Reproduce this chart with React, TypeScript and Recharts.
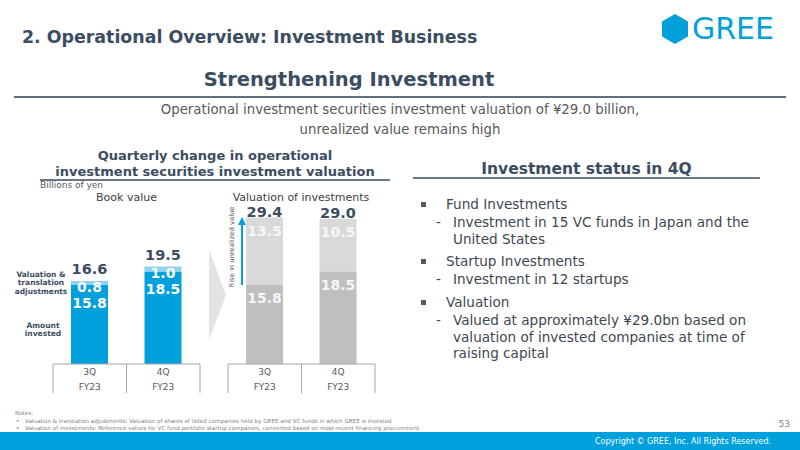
import { BarChart, Bar, XAxis, YAxis, LabelList } from "recharts";

const FONT = "'DejaVu Sans', Verdana, sans-serif";
const SLATE = "#3b4d61";
const BLUE = "#00a0dc";

// Chart data (billions of yen)
const quarters = ["3Q", "4Q"];
const fiscalYear = "FY23";
const amountInvested = [15.8, 18.5];
const valuationAdjustments = [0.8, 1.0];
const bookValueTotals = [16.6, 19.5];
const valuationBase = [15.8, 18.5];
const unrealizedRise = [13.5, 10.5];
const valuationTotals = [29.4, 29.0];

const bookData = quarters.map((q, i) => ({
  quarter: q,
  amount: amountInvested[i],
  adjustment: valuationAdjustments[i],
  total: bookValueTotals[i],
}));

const valuationData = quarters.map((q, i) => ({
  quarter: q,
  base: valuationBase[i],
  rise: unrealizedRise[i],
  total: valuationTotals[i],
}));

const fundLines = ["Investment in 15 VC funds in Japan and the", "United States"];
const startupLines = ["Investment in 12 startups"];
const valuationLines = [
  "Valued at approximately ¥29.0bn based on",
  "valuation of invested companies at time of",
  "raising capital",
];

// label drawn at a fixed offset from the top of a bar segment
const valueLabel =
  (dy: number, fill: string, size = 14) =>
  (props: any) => {
    const { x, y, width, value } = props;
    return (
      <text
        x={Number(x) + Number(width) / 2}
        y={Number(y) + dy}
        textAnchor="middle"
        dominantBaseline="central"
        fill={fill}
        fontSize={size}
        fontWeight="bold"
        fontFamily={FONT}
      >
        {Number(value).toFixed(1)}
      </text>
    );
  };

// category cell: "3Q" over "FY23", with the table's vertical rules
function QuarterTick(props: any) {
  const { x, y, payload, index, visibleTicksCount } = props;
  const half = payload?.offset ?? 36.75;
  const isLast = index === visibleTicksCount - 1;
  return (
    <g>
      <line x1={x - half} y1={y} x2={x - half} y2={y + 29} stroke="#a6a6a6" />
      {isLast && <line x1={x + half} y1={y} x2={x + half} y2={y + 29} stroke="#a6a6a6" />}
      <text x={x} y={y + 11} textAnchor="middle" fontSize={9} fill="#595959" fontFamily={FONT}>
        {payload.value}
      </text>
      <text x={x} y={y + 26} textAnchor="middle" fontSize={9} fill="#595959" fontFamily={FONT}>
        {fiscalYear}
      </text>
    </g>
  );
}

const abs = (left: number, top: number, extra: React.CSSProperties = {}): React.CSSProperties => ({
  position: "absolute",
  left,
  top,
  whiteSpace: "nowrap",
  fontFamily: FONT,
  ...extra,
});

const bodyText: React.CSSProperties = { fontSize: 13.6, color: "#3d4751", lineHeight: "18px" };

function Bullet({ top, label }: { top: number; label: string }) {
  return (
    <>
      <div style={abs(421, top - 2.5, { width: 5, height: 5, background: "#595959" })} />
      <div style={abs(446, top - 9, bodyText)}>{label}</div>
    </>
  );
}

function SubLines({ top, lines }: { top: number; lines: string[] }) {
  return (
    <>
      <div style={abs(436, top - 9, bodyText)}>-</div>
      {lines.map((l, i) => (
        <div key={i} style={abs(453, top - 9 + i * 16.5, bodyText)}>
          {l}
        </div>
      ))}
    </>
  );
}

export default function App() {
  return (
    <div style={{ position: "absolute", left: 0, top: 0, width: 800, height: 450, background: "#fff", overflow: "hidden" }}>
      {/* header */}
      <div style={abs(22, 25, { fontSize: 17.4, fontWeight: "bold", color: SLATE, lineHeight: "24px" })}>
        2. Operational Overview: Investment Business
      </div>
      <svg style={{ position: "absolute", left: 660, top: 12 }} width={32} height={34}>
        <polygon points="15,2 28,9.5 28,24.5 15,32 2,24.5 2,9.5" fill={BLUE} />
      </svg>
      <div style={abs(692, 12, { fontSize: 30, color: BLUE, lineHeight: "34px" })}>GREE</div>

      <div style={{ ...abs(0, 67, { fontSize: 19.5, fontWeight: "bold", color: SLATE, lineHeight: "26px" }), width: 698, textAlign: "center" }}>
        Strengthening Investment
      </div>
      <div style={{ position: "absolute", left: 14, top: 96, width: 772, height: 1.5, background: "#5f6f7f" }} />
      <div style={{ ...abs(0, 100, { fontSize: 13.3, color: "#595959", lineHeight: "19.5px" }), width: 800, textAlign: "center" }}>
        Operational investment securities investment valuation of ¥29.0 billion,
        <br />
        unrealized value remains high
      </div>

      {/* left section header */}
      <div style={{ ...abs(40, 148, { fontSize: 13, fontWeight: "bold", color: SLATE, lineHeight: "16px" }), width: 350, textAlign: "center" }}>
        Quarterly change in operational
        <br />
        investment securities investment valuation
      </div>
      <div style={{ position: "absolute", left: 40, top: 179, width: 350, height: 1.5, background: "#6b7785" }} />
      <div style={abs(40, 179, { fontSize: 9, color: "#595959", lineHeight: "12px" })}>Billions of yen</div>
      <div style={{ ...abs(53, 190, { fontSize: 11, color: "#404040", lineHeight: "15px" }), width: 147, textAlign: "center" }}>
        Book value
      </div>
      <div style={{ ...abs(218, 190, { fontSize: 11, color: "#404040", lineHeight: "15px" }), width: 166, textAlign: "center" }}>
        Valuation of investments
      </div>

      {/* segment captions */}
      <div style={{ ...abs(10, 271, { fontSize: 7.5, fontWeight: "bold", color: SLATE, lineHeight: "8.3px" }), width: 62, textAlign: "center" }}>
        Valuation &amp;
        <br />
        translation
        <br />
        adjustments
      </div>
      <div style={{ ...abs(12, 322, { fontSize: 7.5, fontWeight: "bold", color: SLATE, lineHeight: "8.3px" }), width: 62, textAlign: "center" }}>
        Amount
        <br />
        invested
      </div>

      {/* book value chart */}
      <div style={{ position: "absolute", left: 0, top: 150 }}>
        <BarChart width={210} height={250} data={bookData} margin={{ top: 64, right: 10, bottom: 6, left: 53 }} barSize={37}>
          <YAxis hide domain={[0, 30]} />
          <XAxis
            dataKey="quarter"
            height={30}
            axisLine={{ stroke: "#a6a6a6" }}
            tickLine={false}
            tickSize={0}
            tickMargin={0}
            tick={<QuarterTick />}
            interval={0}
          />
          <Bar dataKey="amount" stackId="book" fill="#00a0dc" isAnimationActive={false}>
            <LabelList dataKey="amount" content={valueLabel(17.5, "#ffffff", 14)} />
          </Bar>
          <Bar dataKey="adjustment" stackId="book" fill="#8fd3f0" isAnimationActive={false}>
            <LabelList dataKey="adjustment" content={valueLabel(6, "#ffffff", 14)} />
            <LabelList dataKey="total" content={valueLabel(-12, SLATE, 14.5)} />
          </Bar>
        </BarChart>
      </div>

      {/* valuation chart */}
      <div style={{ position: "absolute", left: 210, top: 150 }}>
        <BarChart width={185} height={250} data={valuationData} margin={{ top: 64, right: 20, bottom: 6, left: 18 }} barSize={37}>
          <YAxis hide domain={[0, 30]} />
          <XAxis
            dataKey="quarter"
            height={30}
            axisLine={{ stroke: "#a6a6a6" }}
            tickLine={false}
            tickSize={0}
            tickMargin={0}
            tick={<QuarterTick />}
            interval={0}
          />
          <Bar dataKey="base" stackId="val" fill="#bfbfbf" isAnimationActive={false}>
            <LabelList dataKey="base" content={valueLabel(13, "#f7f7f7", 14)} />
          </Bar>
          <Bar dataKey="rise" stackId="val" fill="#d9d9d9" isAnimationActive={false}>
            <LabelList dataKey="rise" content={valueLabel(13, "#f7f7f7", 14)} />
            <LabelList dataKey="total" content={valueLabel(-6, SLATE, 14.5)} />
          </Bar>
        </BarChart>
      </div>

      {/* transition chevron and unrealized-value arrow */}
      <svg style={{ position: "absolute", left: 0, top: 0, pointerEvents: "none" }} width={800} height={450}>
        <polygon points="209,250 226,295 209,340" fill="#e3e3e3" />
        <line x1={242} y1={285} x2={242} y2={223} stroke={BLUE} strokeWidth={2} />
        <polygon points="238,225 242,217 246,225" fill={BLUE} />
        <text
          x={232}
          y={247}
          transform="rotate(-90 232 247)"
          textAnchor="middle"
          dominantBaseline="central"
          fontSize={6.8}
          fill="#595959"
          fontFamily={FONT}
        >
          Rise in unrealized value
        </text>
      </svg>

      {/* right column */}
      <div style={{ ...abs(413, 159, { fontSize: 15.5, fontWeight: "bold", color: SLATE, lineHeight: "20px" }), width: 347, textAlign: "center" }}>
        Investment status in 4Q
      </div>
      <div style={{ position: "absolute", left: 413, top: 177, width: 347, height: 1.5, background: "#6b7785" }} />
      <Bullet top={204} label="Fund Investments" />
      <SubLines top={222} lines={fundLines} />
      <Bullet top={261} label="Startup Investments" />
      <SubLines top={279} lines={startupLines} />
      <Bullet top={302} label="Valuation" />
      <SubLines top={320} lines={valuationLines} />

      {/* notes */}
      <div style={abs(15, 409, { fontSize: 5.6, color: "#7f7f7f", lineHeight: "8px" })}>Notes:</div>
      <div style={abs(16, 417, { fontSize: 5.6, color: "#7f7f7f", lineHeight: "8px" })}>•</div>
      <div style={abs(25, 417, { fontSize: 5.6, color: "#7f7f7f", lineHeight: "8px" })}>
        Valuation &amp; translation adjustments: Valuation of shares of listed companies held by GREE and VC funds in which GREE is invested
      </div>
      <div style={abs(16, 424, { fontSize: 5.6, color: "#7f7f7f", lineHeight: "8px" })}>•</div>
      <div style={abs(25, 424, { fontSize: 5.6, color: "#7f7f7f", lineHeight: "8px" })}>
        Valuation of investments: Reference values for VC fund portfolio startup companies, converted based on most-recent financing procurement
      </div>
      <div style={{ ...abs(740, 418, { fontSize: 9, color: "#7f7f7f", lineHeight: "12px" }), width: 50, textAlign: "right" }}>53</div>

      {/* footer */}
      <div style={{ position: "absolute", left: 0, top: 432, width: 800, height: 18, background: BLUE }} />
      <div style={{ ...abs(400, 435, { fontSize: 8, color: "#ffffff", lineHeight: "13px" }), width: 371, textAlign: "right" }}>
        Copyright © GREE, Inc. All Rights Reserved.
      </div>
    </div>
  );
}
